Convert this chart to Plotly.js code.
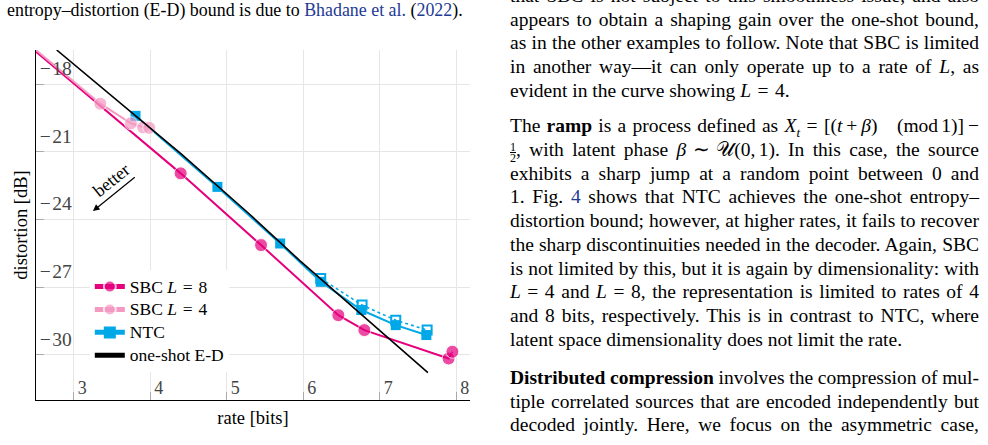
<!DOCTYPE html>
<html>
<head>
<meta charset="utf-8">
<script src="https://cdn.plot.ly/plotly-3.0.1.min.js"></script>
<style>
  html, body { margin: 0; padding: 0; background: #fff; }
  body {
    width: 988px; height: 445px; overflow: hidden; position: relative;
    font-family: "Liberation Serif", "Times New Roman", serif; color: #000;
  }
  .ln { position: absolute; font-size: 19.5px; line-height: 24px; white-space: nowrap; }
  .cap { font-size: 17.9px; }
  .col2 { left: 510px; width: 469px; }
  .link { color: #233a95; }
  .fr { display: inline-block; vertical-align: -6px; font-size: 12px; line-height: 10px; text-align: center; }
  .fr span { display: block; }
  .fr span + span { border-top: 1px solid #000; }
  #chart { position: absolute; left: 0; top: 40px; width: 490px; height: 405px; }
</style>
</head>
<body>

<div class="ln cap" style="left:7px; top:-2px;">entropy–distortion (E-D) bound is due to <span class="link">Bhadane et al.</span> (<span class="link">2022</span>).</div>

<div class="ln col2 j" style="top:-16px;"><span>that SBC is not subject to this smoothness issue, and also</span></div>
<div class="ln col2 j" style="top:7.7px;"><span>appears to obtain a shaping gain over the one-shot bound,</span></div>
<div class="ln col2 j" style="top:31.4px;"><span>as in the other examples to follow. Note that SBC is limited</span></div>
<div class="ln col2 j" style="top:55.1px;"><span>in another way—it can only operate up to a rate of <i>L</i>, as</span></div>
<div class="ln col2" style="top:78.8px;"><span>evident in the curve showing <i>L</i>&#8196;=&#8196;4.</span></div>

<div class="ln col2 j" style="top:114.3px;"><span>The <b>ramp</b> is a process defined as <i>X<sub style="font-size:13px">t</sub></i>&#8196;=&#8196;[(<i>t</i>&#8201;+&#8201;<i>β</i>)&#8195;(mod&#8198;1)]&#8201;−</span></div>
<div class="ln col2 j" style="top:138px;"><span><span class="fr"><span>1</span><span>2</span></span>, with latent phase <i>β</i>&#8196;∼&#8196;𝒰(0,&#8198;1). In this case, the source</span></div>
<div class="ln col2 j" style="top:161.7px;"><span>exhibits a sharp jump at a random point between 0 and</span></div>
<div class="ln col2 j" style="top:185.4px;"><span>1. Fig. <span class="link">4</span> shows that NTC achieves the one-shot entropy–</span></div>
<div class="ln col2 j" style="top:209.1px;"><span>distortion bound; however, at higher rates, it fails to recover</span></div>
<div class="ln col2 j" style="top:232.8px;"><span>the sharp discontinuities needed in the decoder. Again, SBC</span></div>
<div class="ln col2 j" style="top:256.5px;"><span>is not limited by this, but it is again by dimensionality: with</span></div>
<div class="ln col2 j" style="top:280.2px;"><span><i>L</i>&#8196;=&#8196;4 and <i>L</i>&#8196;=&#8196;8, the representation is limited to rates of 4</span></div>
<div class="ln col2 j" style="top:303.9px;"><span>and 8 bits, respectively. This is in contrast to NTC, where</span></div>
<div class="ln col2" style="top:327.6px;"><span>latent space dimensionality does not limit the rate.</span></div>

<div class="ln col2 j" style="top:366px;"><span><b>Distributed compression</b> involves the compression of mul-</span></div>
<div class="ln col2 j" style="top:389.7px;"><span>tiple correlated sources that are encoded independently but</span></div>
<div class="ln col2 j" style="top:413.4px;"><span>decoded jointly. Here, we focus on the asymmetric case,</span></div>

<div id="chart"></div>

<script>
// Stretch (or squeeze) the word spaces of each justified line so it fills the column width.
document.querySelectorAll('.j').forEach(function (el) {
  var span = el.firstElementChild;
  var w = span.getBoundingClientRect().width;
  var n = (span.textContent.match(/ /g) || []).length;
  if (n) span.style.wordSpacing = ((469 - w) / n) + 'px';
});

// ---- data: rate [bits] vs distortion [dB] ----
// one-shot entropy–distortion bound
var rateED = [2.78, 4.41, 5.29, 5.96, 7.63];
var distED = [-16.48, -21.10, -23.73, -25.83, -30.79];

// SBC, L = 8 (first point is where the curve enters the axes, no marker)
var rateSBC8 = [2.51, 4.40, 5.45, 6.46, 6.80, 7.90, 7.95];
var distSBC8 = [-16.56, -21.95, -25.13, -28.24, -28.90, -30.16, -29.86];
var markSBC8 = [0, 1, 1, 1, 1, 1, 1];

// SBC, L = 4
var rateSBC4 = [2.51, 3.35, 3.75, 3.91, 3.99];
var distSBC4 = [-16.48, -18.86, -19.73, -19.91, -19.93];
var markSBC4 = [0, 1, 1, 1, 1];

// NTC
var rateNTC = [3.81, 4.88, 5.70, 6.23, 6.76, 7.21, 7.61];
var distNTC = [-19.40, -22.55, -25.06, -26.76, -28.01, -28.68, -29.12];

// NTC, second run (dotted, open squares)
var rateNTC2 = [6.23, 6.77, 7.21, 7.62];
var distNTC2 = [-26.61, -27.79, -28.46, -28.90];

var xTicks = [3, 4, 5, 6, 7, 8];
var yTicks = [-30, -27, -24, -21, -18];
var yTickText = yTicks.map(function (v) { return (v < 0 ? '\u2212\u200a' : '') + Math.abs(v); });

var PINK = '#e5007d', LIGHTPINK = '#f49ac2', BLUE = '#00a8e8';
var FONT = 'Liberation Serif, Times New Roman, serif';

function sizes(mask, s) { return mask.map(function (m) { return m ? s : 0; }); }
function legendText(s) { return '<span style="font-size:17.5px">' + s + '</span>'; }

var traces = [
  { x: rateNTC2, y: distNTC2, mode: 'lines+markers', showlegend: false, name: 'NTC (run 2)',
    line: { color: BLUE, width: 1.6, dash: 'dot' },
    marker: { symbol: 'square-open', size: 9, color: BLUE, line: { width: 2, color: BLUE } } },
  { x: rateNTC, y: distNTC, mode: 'lines+markers', name: legendText('NTC'), legendrank: 3,
    line: { color: BLUE, width: 2 },
    marker: { symbol: 'square', size: 10, color: BLUE } },
  { x: rateSBC8, y: distSBC8, mode: 'lines+markers', name: legendText('SBC <i>L</i>\u2004=\u20048'), legendrank: 1,
    line: { color: PINK, width: 2 },
    marker: { symbol: 'circle', size: sizes(markSBC8, 13), color: PINK } },
  { x: rateSBC4, y: distSBC4, mode: 'lines+markers', name: legendText('SBC <i>L</i>\u2004=\u20044'), legendrank: 2,
    line: { color: LIGHTPINK, width: 2 },
    marker: { symbol: 'circle', size: sizes(markSBC4, 13), color: LIGHTPINK } },
  { x: rateED, y: distED, mode: 'lines', name: legendText('one-shot E-D'), legendrank: 4,
    line: { color: '#000', width: 1.6 } }
];

var layout = {
  width: 490, height: 405,
  margin: { l: 36, r: 20, t: 10, b: 45 },
  paper_bgcolor: 'rgba(0,0,0,0)', plot_bgcolor: '#fff',
  font: { family: FONT, size: 16, color: '#000' },
  showlegend: true,
  legend: {
    x: 0.124, y: 0.371, xanchor: 'left', yanchor: 'top',
    bgcolor: '#fff', borderwidth: 0, font: { family: FONT, size: 15.3 },
    itemsizing: 'constant', tracegroupgap: 0
  },
  xaxis: {
    range: [2.51, 8.18], tickvals: xTicks, ticks: 'inside', ticklen: 8, tickcolor: '#aaa',
    ticklabelposition: 'inside right', ticklabelstandoff: 0, ticklabelshift: 3,
    showgrid: true, gridcolor: '#e6e6e6', gridwidth: 1, zeroline: false,
    showline: true, linecolor: '#000', linewidth: 1.3, mirror: false,
    tickfont: { family: FONT, size: 18 },
    title: { text: 'rate [bits]', font: { family: FONT, size: 18.5 }, standoff: 14 }
  },
  yaxis: {
    range: [-32.0, -16.48], tickvals: yTicks, ticktext: yTickText, ticks: 'inside', ticklen: 8, tickcolor: '#aaa',
    ticklabelposition: 'inside top', ticklabelstandoff: 4, ticklabelshift: -2,
    showgrid: true, gridcolor: '#e6e6e6', gridwidth: 1, zeroline: false,
    showline: true, linecolor: '#000', linewidth: 1.3, mirror: false,
    tickfont: { family: FONT, size: 19.5 },
    title: { text: 'distortion [dB]', font: { family: FONT, size: 18.5 }, standoff: 7 }
  },
  annotations: [
    { x: 3.254, y: -23.62, ax: 3.82, ay: -22.07, axref: 'x', ayref: 'y', xref: 'x', yref: 'y',
      text: '', showarrow: true, arrowhead: 2, arrowsize: 1.1, arrowwidth: 1.2, arrowcolor: '#000' },
    { x: 3.50, y: -22.25, xref: 'x', yref: 'y', text: 'better', showarrow: false,
      textangle: -39, font: { family: FONT, size: 18, color: '#000' } }
  ]
};

Plotly.newPlot('chart', traces, layout, { displayModeBar: false, staticPlot: true });
</script>
</body>
</html>
